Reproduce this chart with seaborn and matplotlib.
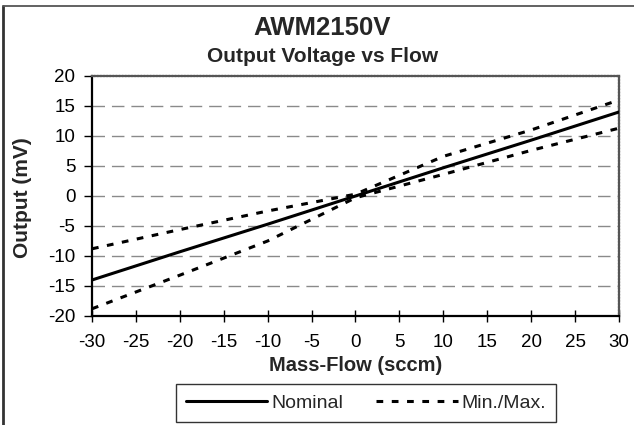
import numpy as np
import pandas as pd
import matplotlib.pyplot as plt
import seaborn as sns
from matplotlib.lines import Line2D

# values
flow = [-30, -20, -10, 0, 10, 20, 30]
nominal = [-14.0, -9.3, -4.7, 0.0, 4.7, 9.3, 14.0]
upper = [-8.8, -5.6, -2.5, 0.3, 6.6, 11.0, 16.0]
lower = [-18.8, -13.2, -7.5, -0.3, 3.6, 7.6, 11.3]

xticks = list(range(-30, 31, 5))
yticks = list(range(-20, 21, 5))

df = pd.DataFrame({'flow': flow, 'nominal': nominal, 'upper': upper, 'lower': lower})

sns.set_style('white')
plt.rcParams['font.family'] = ['Liberation Sans', 'DejaVu Sans']

fig = plt.figure(figsize=(6.34, 4.25), dpi=100)
ax = fig.add_axes([0.1451, 0.2565, 0.8312, 0.5647])

dash = (2.2, 2.8)
sns.lineplot(data=df, x='flow', y='nominal', ax=ax, color='black', lw=2.2,
             label='Nominal', zorder=4)
sns.lineplot(data=df, x='flow', y='upper', ax=ax, color='black', lw=2.2,
             label='Min./Max.', zorder=4)
sns.lineplot(data=df, x='flow', y='lower', ax=ax, color='black', lw=2.2,
             label='_nolegend_', zorder=4)
for ln in ax.get_lines()[1:]:
    ln.set_dashes(dash)

ax.set_xlim(-30, 30)
ax.set_ylim(-20, 20)
ax.set_xticks(xticks)
ax.set_yticks(yticks)
ax.set_xticklabels([str(t) for t in xticks])
ax.set_yticklabels([str(t) for t in yticks])

for y in yticks[1:-1]:
    ax.axhline(y, color='#8a8a8a', lw=1.0, dashes=(9, 5), zorder=1)

ax.tick_params(axis='x', direction='inout', length=8, width=1, pad=9,
               labelsize=13.5, colors='black', bottom=True)
ax.tick_params(axis='y', direction='out', length=6, width=1, pad=6,
               labelsize=13.5, colors='black', left=True)

for side in ['left', 'bottom']:
    ax.spines[side].set_color('black')
    ax.spines[side].set_linewidth(1.6)
for side in ['top', 'right']:
    ax.spines[side].set_color('#555555')
    ax.spines[side].set_linewidth(1.6)
    ax.spines[side].set_linestyle((0, (1, 0.4)))

ax.set_xlabel('Mass-Flow (sccm)', fontsize=14.5, fontweight='bold')
ax.xaxis.set_label_coords(0.5, -0.165)
ax.set_ylabel('')
fig.text(23 / 634, 1 - 198 / 425, 'Output (mV)', rotation=90, ha='center',
         va='center', fontsize=15, fontweight='bold')

fig.text(0.508, 1 - 28 / 425, 'AWM2150V', ha='center', va='center',
         fontsize=18.5, fontweight='bold')
fig.text(0.508, 1 - 57 / 425, 'Output Voltage vs Flow', ha='center', va='center',
         fontsize=15, fontweight='bold')

handles = [Line2D([], [], color='black', lw=2.2),
           Line2D([], [], color='black', lw=2.2, dashes=dash)]
leg = ax.legend(handles, ['Nominal', 'Min./Max.'], ncol=2, loc='center',
                bbox_to_anchor=(366 / 634, 1 - 403 / 425),
                bbox_transform=fig.transFigure, fontsize=14, frameon=True,
                fancybox=False, handlelength=4.2, handletextpad=0.2,
                columnspacing=1.7, borderpad=0.5)
leg.get_frame().set_edgecolor('black')
leg.get_frame().set_linewidth(1.0)

# outer chart border (left and top)
fig.add_artist(Line2D([3 / 634, 3 / 634], [0, 1 - 6 / 425],
                      transform=fig.transFigure, color='#333333', lw=2))
fig.add_artist(Line2D([3 / 634, 1], [1 - 6 / 425, 1 - 6 / 425],
                      transform=fig.transFigure, color='#555555', lw=1.3))

fig.savefig('out.png', dpi=100)
